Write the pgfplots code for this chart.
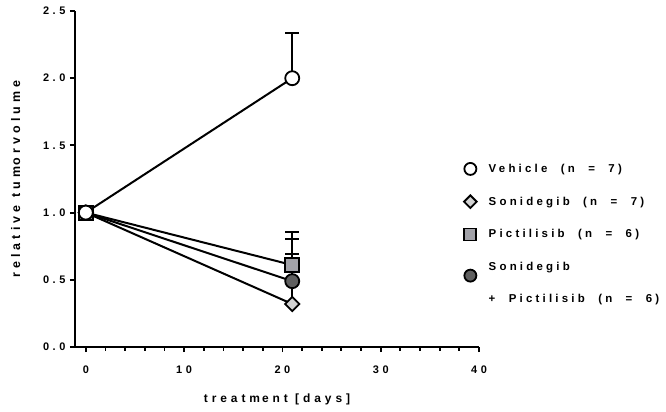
\documentclass[border=0pt]{standalone}
\usepackage{fontspec}
\setmainfont{Liberation Sans}[BoldFont={Liberation Sans Bold}]
\newfontfamily\spfont{Liberation Sans Bold}[LetterSpace=28, WordSpace=2.1]
\newfontfamily\labfont{Liberation Sans Bold}[LetterSpace=33, WordSpace=2.6]
\newfontfamily\tickfont{Liberation Sans Bold}[LetterSpace=33]
\usepackage{pgfplots}
\pgfplotsset{compat=1.18}
\definecolor{sonfill}{HTML}{D2D2D2}
\definecolor{picfill}{HTML}{A2A2A8}
\definecolor{combfill}{HTML}{606060}
\begin{document}
\begin{tikzpicture}
\path[use as bounding box] (-75bp,-65bp) rectangle (591bp,347bp);
\begin{axis}[
  at={(0,0)}, anchor=south west,
  scale only axis,
  width=404bp, height=336bp,
  xmin=-1.1, xmax=40, ymin=0, ymax=2.5,
  axis x line*=bottom, axis y line*=left,
  axis line style={line width=2bp},
  xtick={0,10,20,30,40},
  minor xtick={2,4,6,8,12,14,16,18,22,24,26,28,32,34,36,38},
  ytick={0,0.5,1.0,1.5,2.0,2.5},
  yticklabels={0.0,0.5,1.0,1.5,2.0,2.5},
  xtick align=outside, ytick align=outside,
  major tick length=5bp, minor tick length=3.5bp,
  every tick/.style={black, line width=1.8bp},
  tick label style={font=\tickfont\fontsize{11}{12}\selectfont},
  /pgf/number format/assume math mode=true,
  xticklabel style={yshift=-10bp},
  yticklabel style={xshift=-1bp},
  xlabel={treatm\hspace{2bp}ent [days]},
  ylabel={relative tum\hspace{1.5bp}orvolume},
  xlabel style={font=\labfont\fontsize{12}{13}\selectfont, yshift=-14bp},
  ylabel style={font=\labfont\fontsize{12.5}{13}\selectfont, yshift=16bp},
  clip=false,
  legend style={draw=none, fill=none, at={(rel axis cs:0.955,0.56)}, anchor=north west,
    font=\spfont\fontsize{11.5}{12}\selectfont, row sep=17bp,
    nodes={align=left, inner sep=3bp, inner xsep=6bp},
    /tikz/every odd column/.append style={column sep=6bp}},
  legend cell align=left,
  legend image code/.code={\draw[#1] plot coordinates {(0.3cm,0cm)};},
  error bars/y dir=plus, error bars/y explicit,
  error bars/error bar style={line width=2bp, black},
  error bars/error mark options={rotate=90, mark size=7bp, line width=2bp, black},
]
\addplot[line width=2bp, black, mark=*, mark size=7bp, mark options={fill=combfill, line width=1.8bp}, forget plot]
  coordinates {(0,1) +- (0,0) (21,0.49) +- (0,0.315)};
\addplot[line width=2bp, black, mark=square*, mark size=5bp, mark options={rotate=45, fill=sonfill, line width=1.8bp}, forget plot]
  coordinates {(0,1) +- (0,0) (21,0.32) +- (0,0.37)};
\addplot[line width=2bp, black, mark=square*, mark size=7bp, mark options={fill=picfill, line width=1.8bp}, forget plot]
  coordinates {(0,1) +- (0,0) (21,0.61) +- (0,0.245)};
\addplot[line width=2bp, black, mark=*, mark size=7bp, mark options={fill=white, line width=1.8bp}, forget plot]
  coordinates {(0,1) +- (0,0) (21,2.0) +- (0,0.34)};
\addlegendimage{black, mark=*, mark size=6bp, mark options={fill=white, line width=1.8bp}}
\addlegendentry{Vehicle (n = 7)}
\addlegendimage{black, mark=square*, mark size=4.5bp, mark options={rotate=45, fill=sonfill, line width=1.8bp}}
\addlegendentry{Sonidegib (n = 7)}
\addlegendimage{black, mark=square*, mark size=6bp, mark options={fill=picfill, line width=1.8bp}}
\addlegendentry{Pictilisib (n = 6)}
\addlegendimage{black, mark=*, mark size=6bp, mark options={fill=combfill, line width=1.8bp}}
\addlegendentry{\begin{tabular}{@{}l@{}}Sonidegib\\[20bp]+ Pictilisib (n = 6)\end{tabular}}
\end{axis}
\end{tikzpicture}
\end{document}
